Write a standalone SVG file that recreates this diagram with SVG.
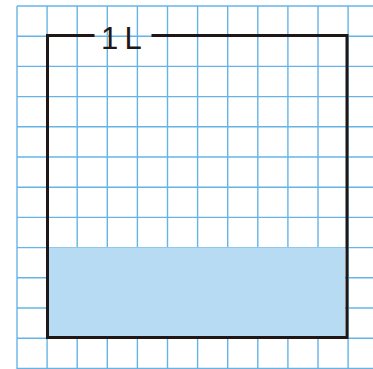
<svg xmlns="http://www.w3.org/2000/svg" width="373" height="369" viewBox="0 0 373 369">
  <style>
    .grid line { stroke: #66b4e6; stroke-width: 1.4; }
    .box { fill: none; stroke: #1f1715; stroke-width: 3; stroke-linecap: square; }
    .label { font-family: "Liberation Sans", Arial, sans-serif; font-size: 31px; fill: #1f1715; }
  </style>
  <rect x="0" y="0" width="373" height="369" fill="#ffffff"/>
  <g id="grid" class="grid">
    <line x1="17" y1="6" x2="17" y2="369"/>
    <line x1="47.1" y1="6" x2="47.1" y2="369"/>
    <line x1="77.2" y1="6" x2="77.2" y2="369"/>
    <line x1="107.3" y1="6" x2="107.3" y2="369"/>
    <line x1="137.4" y1="6" x2="137.4" y2="369"/>
    <line x1="167.5" y1="6" x2="167.5" y2="369"/>
    <line x1="197.6" y1="6" x2="197.6" y2="369"/>
    <line x1="227.7" y1="6" x2="227.7" y2="369"/>
    <line x1="257.8" y1="6" x2="257.8" y2="369"/>
    <line x1="287.9" y1="6" x2="287.9" y2="369"/>
    <line x1="318" y1="6" x2="318" y2="369"/>
    <line x1="348.1" y1="6" x2="348.1" y2="369"/>
    <line x1="17" y1="6" x2="373" y2="6"/>
    <line x1="17" y1="36.2" x2="373" y2="36.2"/>
    <line x1="17" y1="66.4" x2="373" y2="66.4"/>
    <line x1="17" y1="96.6" x2="373" y2="96.6"/>
    <line x1="17" y1="126.8" x2="373" y2="126.8"/>
    <line x1="17" y1="157" x2="373" y2="157"/>
    <line x1="17" y1="187.2" x2="373" y2="187.2"/>
    <line x1="17" y1="217.4" x2="373" y2="217.4"/>
    <line x1="17" y1="247.6" x2="373" y2="247.6"/>
    <line x1="17" y1="277.8" x2="373" y2="277.8"/>
    <line x1="17" y1="308" x2="373" y2="308"/>
    <line x1="17" y1="338.2" x2="373" y2="338.2"/>
    <line x1="17" y1="368.4" x2="373" y2="368.4"/>
  </g>
  <g id="water">
    <rect x="48" y="247.5" width="297" height="90" fill="#b6dbf2"/>
  </g>
  <g id="container">
    <path class="box" d="M93 35.5 H47.5 V337.5 H347 V35.5 H153"/>
    <text class="label" y="49"><tspan x="101">1</tspan><tspan x="124.5">L</tspan></text>
  </g>
</svg>
